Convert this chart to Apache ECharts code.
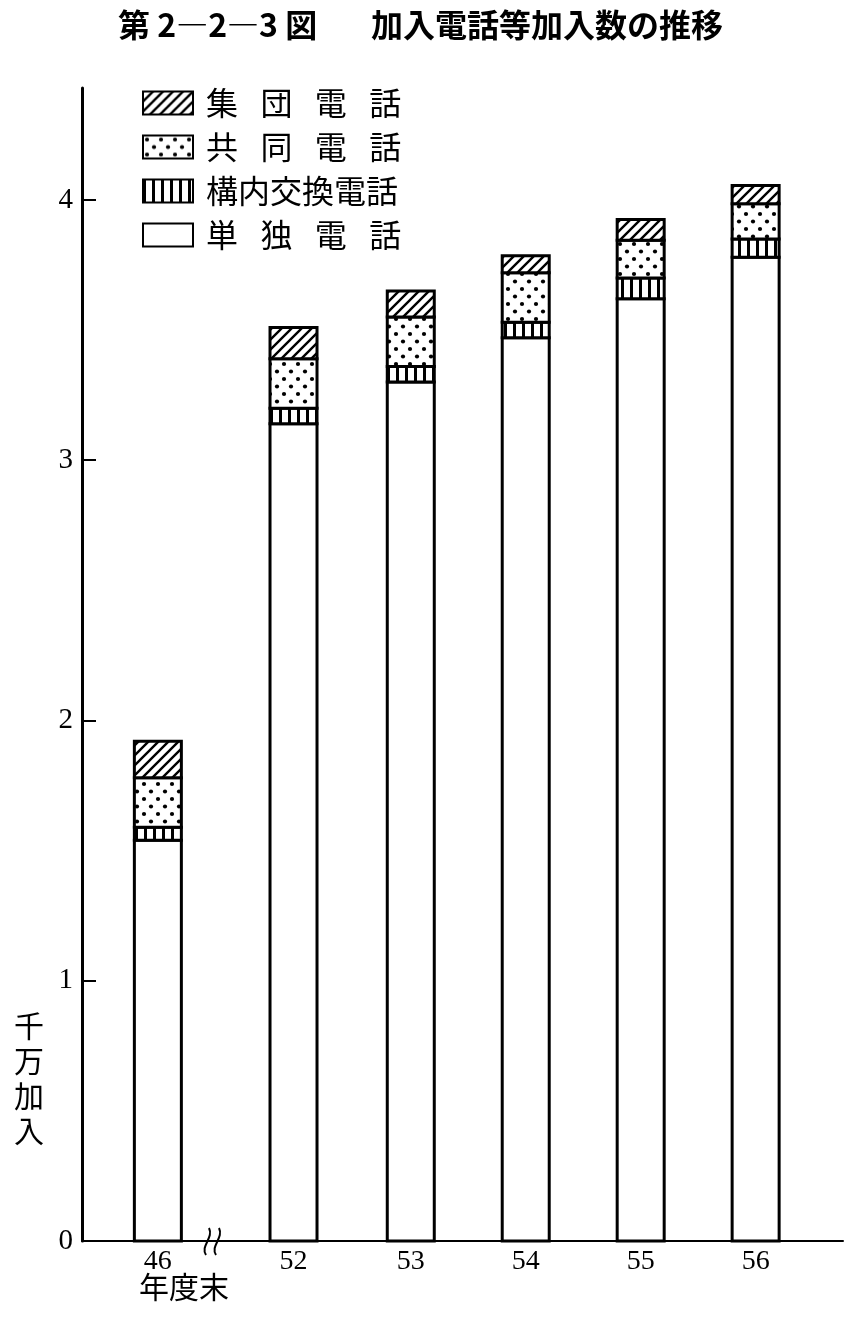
<!DOCTYPE html>
<html>
<head>
<meta charset="utf-8">
<script src="https://cdn.jsdelivr.net/npm/echarts@6/dist/echarts.min.js"></script>
<style>
  html, body { margin: 0; padding: 0; background: #fff; }
  #chart { width: 858px; height: 1324px; }
</style>
</head>
<body>
<div id="chart"></div>
<script>
// 年度末 (昭和)
var years = ['46', '52', '53', '54', '55', '56'];
// 46 と 52 の間は省略 (波線) なので少し広く空ける
var slotPos = [0, 1.18, 2.2, 3.2, 4.2, 5.2];

// 千万加入
var tandoku = [1.54, 3.14, 3.30, 3.47, 3.62, 3.78];   // 単独電話
var kounai  = [0.05, 0.06, 0.06, 0.06, 0.08, 0.07];   // 構内交換電話
var kyoudou = [0.19, 0.19, 0.19, 0.19, 0.145, 0.135]; // 共同電話
var shudan  = [0.14, 0.12, 0.10, 0.065, 0.08, 0.07];  // 集団電話

var yTicks = [0, 1, 2, 3, 4];

// 下から積む順
var layers = [tandoku, kounai, kyoudou, shudan];

// 模様用のキャンバス
function makeHatch() {
    var c = document.createElement('canvas');
    c.width = 10; c.height = 10;
    var g = c.getContext('2d');
    g.fillStyle = '#fff'; g.fillRect(0, 0, 10, 10);
    g.strokeStyle = '#000'; g.lineWidth = 2.4;
    g.beginPath();
    g.moveTo(-2, 12); g.lineTo(12, -2);
    g.moveTo(-7, 7); g.lineTo(7, -7);
    g.moveTo(3, 17); g.lineTo(17, 3);
    g.stroke();
    return c;
}
function makeDots() {
    var c = document.createElement('canvas');
    c.width = 14; c.height = 15;
    var g = c.getContext('2d');
    g.fillStyle = '#fff'; g.fillRect(0, 0, 14, 15);
    g.fillStyle = '#000';
    g.beginPath(); g.arc(4, 4, 2.1, 0, Math.PI * 2); g.fill();
    g.beginPath(); g.arc(11, 11.5, 2.1, 0, Math.PI * 2); g.fill();
    return c;
}
function makeStripes() {
    var c = document.createElement('canvas');
    c.width = 9; c.height = 4;
    var g = c.getContext('2d');
    g.fillStyle = '#fff'; g.fillRect(0, 0, 9, 4);
    g.fillStyle = '#000'; g.fillRect(0, 0, 3, 4);
    return c;
}

var serifFont = '"Liberation Serif", "DejaVu Serif", serif';
var jpFont = '"Noto Sans CJK JP", "Noto Sans CJK SC", sans-serif';

var myChart = echarts.init(document.getElementById('chart'));

// 値軸上の積み上げ棒 (custom で下の層の合計から描く)
function layerSeries(name, k, fill) {
    return {
        name: name,
        type: 'custom',
        data: slotPos.map(function (x, i) { return [x, layers[k][i]]; }),
        encode: { x: 0, y: 1 },
        itemStyle: { color: fill, borderColor: '#000', borderWidth: 3 },
        renderItem: function (params, api) {
            var i = params.dataIndex;
            var base = 0;
            for (var j = 0; j < k; j++) base += layers[j][i];
            var x = api.value(0);
            var v = api.value(1);
            var p0 = api.coord([x, base]);
            var p1 = api.coord([x, base + v]);
            var w = 47;
            return {
                type: 'rect',
                shape: { x: p0[0] - w / 2, y: p1[1], width: w, height: p0[1] - p1[1] },
                style: { fill: fill, stroke: '#000', lineWidth: 3 }
            };
        }
    };
}

myChart.setOption({
    animation: false,
    backgroundColor: '#fff',
    grid: { left: 82, right: 15, top: 88, bottom: 83 },
    legend: {
        orient: 'vertical',
        left: 137,
        top: 82,
        itemWidth: 50,
        itemHeight: 23,
        itemGap: 12,
        icon: 'rect',
        data: ['集団電話', '共同電話', '構内交換電話', '単独電話'],
        formatter: function (name) {
            var sp = '\u2002\u2009';
            if (name.length === 4) return name.split('').join(sp);
            return name;
        },
        textStyle: { fontFamily: jpFont, fontSize: 32, color: '#000', lineHeight: 29, padding: [0, 0, 0, 8] }
    },
    xAxis: {
        type: 'value',
        min: -0.66,
        max: 5.96,
        splitLine: { show: false },
        axisTick: { show: false },
        axisLine: { show: true, onZero: false, lineStyle: { color: '#000', width: 2 } },
        axisLabel: {
            customValues: slotPos,
            formatter: function (v) {
                var i = slotPos.indexOf(v);
                return i >= 0 ? years[i] : '';
            },
            fontFamily: serifFont,
            fontSize: 28,
            color: '#000',
            margin: 7
        }
    },
    yAxis: {
        type: 'value',
        min: 0,
        max: 4.43,
        interval: 1,
        splitLine: { show: false },
        axisLine: { show: true, onZero: false, lineStyle: { color: '#000', width: 3 } },
        axisTick: {
            show: true,
            inside: true,
            length: 14,
            lineStyle: { color: '#000', width: 2 },
            customValues: yTicks
        },
        axisLabel: {
            customValues: yTicks,
            fontFamily: serifFont,
            fontSize: 29,
            color: '#000',
            margin: 9
        }
    },
    graphic: [
        {
            type: 'text',
            left: 118,
            top: 9,
            style: {
                text: '第 2―2―3 図',
                font: 'bold 32px ' + jpFont,
                fill: '#000'
            }
        },
        {
            type: 'text',
            left: 371,
            top: 9,
            style: {
                text: '加入電話等加入数の推移',
                font: 'bold 32px ' + jpFont,
                fill: '#000'
            }
        },
        {
            type: 'text',
            left: 14,
            top: 1008,
            style: {
                text: '千\n万\n加\n入',
                font: '30px ' + jpFont,
                lineHeight: 35,
                fill: '#000'
            }
        },
        {
            type: 'text',
            left: 139,
            top: 1272,
            style: {
                text: '年度末',
                font: '30px ' + jpFont,
                fill: '#000'
            }
        },
        {
            type: 'bezierCurve',
            shape: { x1: 209, y1: 1228, cpx1: 214, cpy1: 1238, cpx2: 200, cpy2: 1246, x2: 206, y2: 1255 },
            style: { stroke: '#000', lineWidth: 2, fill: null },
            z: 10
        },
        {
            type: 'bezierCurve',
            shape: { x1: 219, y1: 1228, cpx1: 224, cpy1: 1238, cpx2: 210, cpy2: 1246, x2: 216, y2: 1255 },
            style: { stroke: '#000', lineWidth: 2, fill: null },
            z: 10
        }
    ],
    series: [
        layerSeries('単独電話', 0, '#fff'),
        layerSeries('構内交換電話', 1, { image: makeStripes(), repeat: 'repeat' }),
        layerSeries('共同電話', 2, { image: makeDots(), repeat: 'repeat' }),
        layerSeries('集団電話', 3, { image: makeHatch(), repeat: 'repeat' })
    ]
});
</script>
</body>
</html>
